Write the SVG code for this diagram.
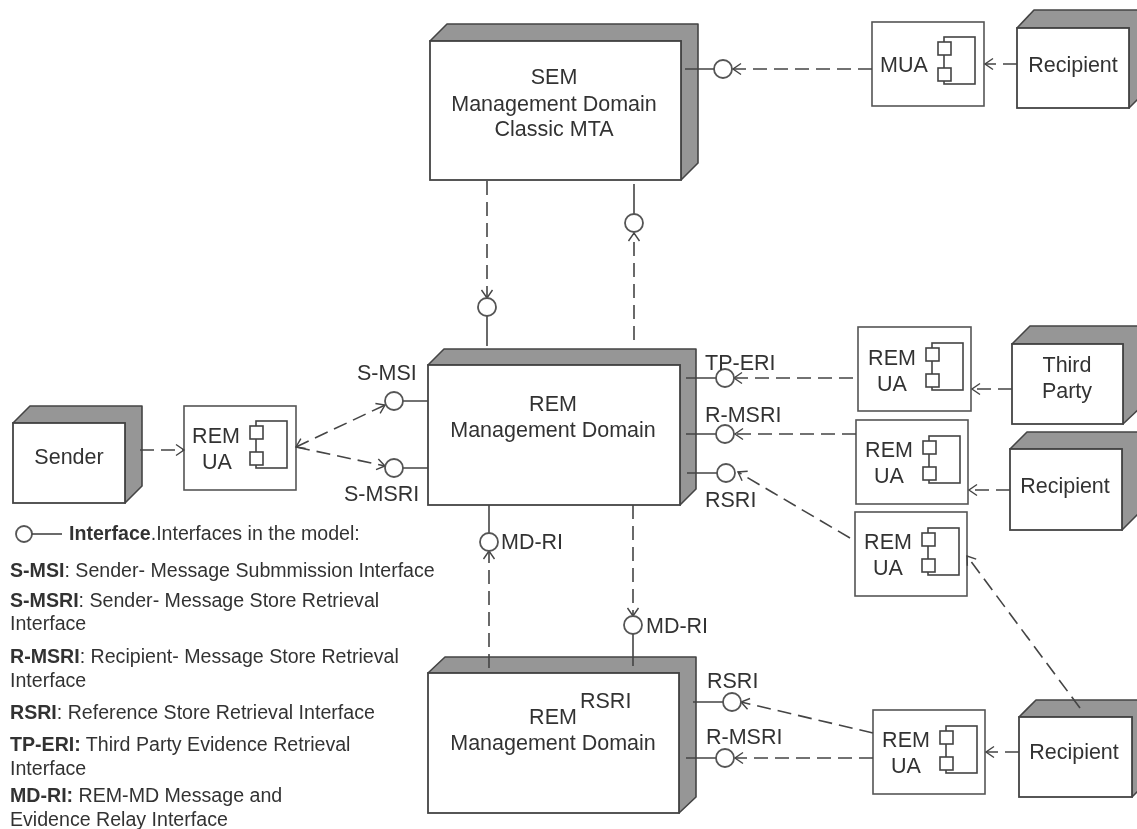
<svg xmlns="http://www.w3.org/2000/svg" width="1137" height="829" viewBox="0 0 1137 829">
<defs>
<marker id="open" markerWidth="12" markerHeight="14" refX="9" refY="7" orient="auto-start-reverse" markerUnits="userSpaceOnUse"><path d="M1 1.5L9 7L1 12.5" fill="none" stroke="#444" stroke-width="1.4"/></marker>
<g id="comp"><rect x="6" y="0" width="31" height="47" class="ln"/><rect x="0" y="5" width="13" height="13" class="ln"/><rect x="0" y="31" width="13" height="13" class="ln"/></g>
<filter id="soft" x="-2%" y="-2%" width="104%" height="104%"><feGaussianBlur stdDeviation="0.45"/></filter>
</defs>
<style>
text{font-family:"Liberation Sans",Arial,sans-serif;fill:#333;font-size:21.5px}
.m{text-anchor:middle}
.s{font-size:19.6px}
.b{font-weight:bold}
.ln{fill:#fff;stroke:#444;stroke-width:1.6}
.side{fill:#969696;stroke:#444;stroke-width:1.6;stroke-linejoin:round}
.front{fill:#fff;stroke:#444;stroke-width:1.8}
.box{fill:#fff;stroke:#555;stroke-width:1.6}
.d{fill:none;stroke:#444;stroke-width:1.6;stroke-dasharray:14 7;marker-end:url(#open)}
.l{fill:none;stroke:#444;stroke-width:1.6}
.c{fill:#fff;stroke:#555;stroke-width:1.8}
</style>
<rect width="1137" height="829" fill="#fff"/>
<g filter="url(#soft)">
<g id="sem"><path class="side" d="M430 41L447 24H698V163L681 180V41Z"/><rect class="front" x="430" y="41" width="251" height="139"/><text class="m" x="554" y="84">SEM</text><text class="m" x="554" y="111">Management Domain</text><text class="m" x="554" y="136">Classic MTA</text></g>
<g id="mua"><rect class="box" x="872" y="22" width="112" height="84"/><text class="m" x="904" y="72">MUA</text><use href="#comp" x="938" y="37"/></g>
<g id="recipient-top"><path class="side" d="M1017 28L1034 10H1146V91L1129 108V28Z"/><rect class="front" x="1017" y="28" width="112" height="80"/><text class="m" x="1073" y="72">Recipient</text></g>
<g id="rem-main"><path class="side" d="M428 365L444 349H696V489L680 505V365Z"/><rect class="front" x="428" y="365" width="252" height="140"/><text class="m" x="553" y="411">REM</text><text class="m" x="553" y="437">Management Domain</text></g>
<g id="rem-bottom"><path class="side" d="M428 673L445 657H696V797L679 813V673Z"/><rect class="front" x="428" y="673" width="251" height="140"/><text class="m" x="553" y="724">REM</text><text class="m" x="553" y="750">Management Domain</text><text x="580" y="708">RSRI</text></g>
<g id="sender"><path class="side" d="M13 423L30 406H142V486L125 503V423Z"/><rect class="front" x="13" y="423" width="112" height="80"/><text class="m" x="69" y="464">Sender</text></g>
<g id="ua-sender"><rect class="box" x="184" y="406" width="112" height="84"/><text class="m" x="216" y="443">REM</text><text class="m" x="217" y="469">UA</text><use href="#comp" x="250" y="421"/></g>
<g id="ua-third"><rect class="box" x="858" y="327" width="113" height="84"/><text class="m" x="892" y="365">REM</text><text class="m" x="892" y="391">UA</text><use href="#comp" x="926" y="343"/></g>
<g id="third-party"><path class="side" d="M1012 344L1030 326H1141V407L1123 424V344Z"/><rect class="front" x="1012" y="344" width="111" height="80"/><text class="m" x="1067" y="372">Third</text><text class="m" x="1067" y="398">Party</text></g>
<g id="ua-recipient"><rect class="box" x="856" y="420" width="112" height="84"/><text class="m" x="889" y="457">REM</text><text class="m" x="889" y="483">UA</text><use href="#comp" x="923" y="436"/></g>
<g id="recipient-mid"><path class="side" d="M1010 449L1027 432H1139V513L1122 530V449Z"/><rect class="front" x="1010" y="449" width="112" height="81"/><text class="m" x="1065" y="493">Recipient</text></g>
<g id="ua-rsri"><rect class="box" x="855" y="512" width="112" height="84"/><text class="m" x="888" y="549">REM</text><text class="m" x="888" y="575">UA</text><use href="#comp" x="922" y="528"/></g>
<g id="ua-bottom"><rect class="box" x="873" y="710" width="112" height="84"/><text class="m" x="906" y="747">REM</text><text class="m" x="906" y="773">UA</text><use href="#comp" x="940" y="726"/></g>
<g id="recipient-bottom"><path class="side" d="M1019 717L1036 700H1149V780L1132 797V717Z"/><rect class="front" x="1019" y="717" width="113" height="80"/><text class="m" x="1074" y="759">Recipient</text></g>
<g id="connectors">
<path class="d" d="M872 69H733"/><path class="d" d="M1017 64H985"/>
<path class="d" d="M487 181V298"/>
<path class="d" d="M634 340V233"/>
<path class="d" d="M140 450H184"/>
<path class="d" d="M296 447L385 405" style="marker-start:url(#open)"/>
<path class="d" d="M296 447L385 466"/>
<path class="d" d="M853 378H734"/><path class="d" d="M856 434H735"/>
<path class="d" d="M850 538L738 472"/>
<path class="d" d="M1012 389H972"/><path class="d" d="M1010 490H969"/>
<path class="d" d="M1080 708L967 556"/>
<path class="d" d="M1019 752H986"/>
<path class="d" d="M873 733L741 702"/><path class="d" d="M873 758H735"/>
<path class="d" d="M489 668V551"/><path class="d" d="M633 505V616"/>
<path class="l" d="M685 69H715M634 184V215M487 315V346M403 401H428M403 468H428M686 378H716M686 434H716M687 473H718M693 702H723M686 758H716M489 505V533M633 634V666"/>
</g>
<g id="interfaces">
<circle class="c" cx="723" cy="69" r="9"/><circle class="c" cx="634" cy="223" r="9"/><circle class="c" cx="487" cy="307" r="9"/>
<circle class="c" cx="394" cy="401" r="9"/><circle class="c" cx="394" cy="468" r="9"/>
<circle class="c" cx="725" cy="378" r="9"/><circle class="c" cx="725" cy="434" r="9"/><circle class="c" cx="726" cy="473" r="9"/>
<circle class="c" cx="732" cy="702" r="9"/><circle class="c" cx="725" cy="758" r="9"/>
<circle class="c" cx="489" cy="542" r="9"/><circle class="c" cx="633" cy="625" r="9"/>
</g>
<g id="labels">
<text x="357" y="380">S-MSI</text><text x="344" y="501">S-MSRI</text>
<text x="705" y="370">TP-ERI</text><text x="705" y="422">R-MSRI</text><text x="705" y="507">RSRI</text>
<text x="707" y="688">RSRI</text><text x="706" y="744">R-MSRI</text>
<text x="501" y="549">MD-RI</text><text x="646" y="633">MD-RI</text>
</g>
<g id="legend">
<circle class="c" cx="24" cy="534" r="8"/><path class="l" d="M32 534H62"/>
<text class="s" x="69" y="540"><tspan class="b">Interface</tspan>.Interfaces in the model:</text>
<text class="s" x="10" y="577"><tspan class="b">S-MSI</tspan>: Sender- Message Submmission Interface</text>
<text class="s" x="10" y="607"><tspan class="b">S-MSRI</tspan>: Sender- Message Store Retrieval</text>
<text class="s" x="10" y="630">Interface</text>
<text class="s" x="10" y="663"><tspan class="b">R-MSRI</tspan>: Recipient- Message Store Retrieval</text>
<text class="s" x="10" y="687">Interface</text>
<text class="s" x="10" y="719"><tspan class="b">RSRI</tspan>: Reference Store Retrieval Interface</text>
<text class="s" x="10" y="751"><tspan class="b">TP-ERI:</tspan> Third Party Evidence Retrieval</text>
<text class="s" x="10" y="775">Interface</text>
<text class="s" x="10" y="802"><tspan class="b">MD-RI:</tspan> REM-MD Message and</text>
<text class="s" x="10" y="826">Evidence Relay Interface</text>
</g>
</g>
</svg>
